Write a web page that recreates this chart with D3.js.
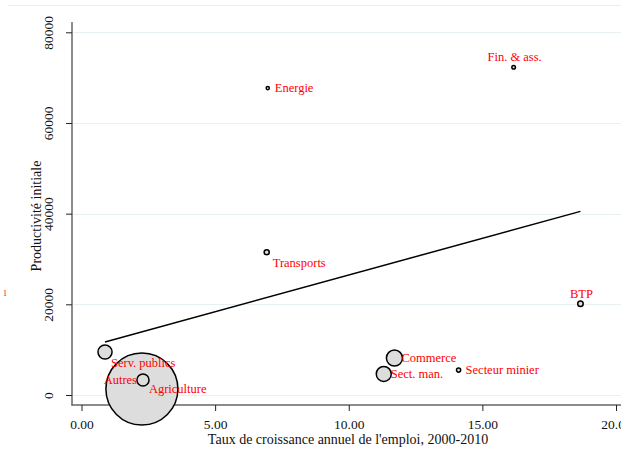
<!DOCTYPE html>
<html><head><meta charset="utf-8">
<script src="https://cdn.jsdelivr.net/npm/d3@7"></script>
<style>
html,body{margin:0;padding:0;background:#fff;}
svg{display:block;}
svg text{font-family:"Liberation Serif","DejaVu Serif",serif;}
</style></head>
<body>
<script>
// ---- data ----
const sectors = ["Fin. & ass.","Energie","Transports","BTP","Secteur minier","Commerce","Sect. man.","Serv. publics","Autres","Agriculture"];
const growth = [16.17, 6.97, 6.93, 18.67, 14.11, 11.71, 11.31, 0.88, 2.30, 2.26];
const productivity = [72300, 67700, 31500, 20100, 5500, 8150, 4650, 9500, 3300, 1300];
const weight = [0.15, 0.1, 0.3, 0.35, 0.2, 3.0, 2.6, 2.3, 1.7, 60];
const labelPos = [12, 3, 4, 12, 3, 3, 3, 4, 9, 3]; // clock positions
const fitX = [0.88, 18.67];
const fitY = [11700, 40500];
const xTicks = [0, 5, 10, 15, 20];
const yTicks = [0, 20000, 40000, 60000, 80000];
const xTitle = "Taux de croissance annuel de l'emploi, 2000-2010";
const yTitle = "Productivité initiale";

const W = 621, H = 472;
const FONT = "Liberation Serif";
const svg = d3.select("body").append("svg").attr("width", W).attr("height", H);

const x = d3.scaleLinear().domain([0, 20]).range([81.5, 616]);
const y = d3.scaleLinear().domain([0, 80000]).range([395, 32.3]);
const r = d3.scaleSqrt().domain([0, 60]).range([0, 36]);

const grid = "#e8eff2";
svg.append("line").attr("x1", 8).attr("x2", W).attr("y1", 5.5).attr("y2", 5.5)
  .attr("stroke", grid).attr("stroke-width", 1);

svg.append("g").selectAll("line").data(yTicks).join("line")
  .attr("x1", 73).attr("x2", W)
  .attr("y1", d => Math.round(y(d)) + 0.5).attr("y2", d => Math.round(y(d)) + 0.5)
  .attr("stroke", grid).attr("stroke-width", 1.2);

svg.append("line").attr("x1", 72).attr("x2", 72).attr("y1", 22).attr("y2", 405.5)
  .attr("stroke", "#666").attr("stroke-width", 1.5);
svg.append("line").attr("x1", 71.5).attr("x2", W).attr("y1", 405).attr("y2", 405)
  .attr("stroke", "#666").attr("stroke-width", 1.5);

const yAxis = svg.append("g").attr("transform", "translate(72,0)")
  .call(d3.axisLeft(y).tickValues(yTicks).tickSize(6).tickPadding(0).tickFormat(d3.format("d")));
yAxis.attr("font-family", FONT);
yAxis.select(".domain").remove();
yAxis.selectAll(".tick line").attr("stroke", "#222").attr("stroke-width", 1);
yAxis.selectAll(".tick text")
  .attr("x", 0).attr("y", 0).attr("dy", null)
  .attr("transform", "translate(-19,0) rotate(-90)")
  .attr("text-anchor", "middle")
  .attr("font-size", 13.5).attr("font-family", FONT).attr("fill", "#111");

const xAxis = svg.append("g").attr("transform", "translate(0,405)")
  .call(d3.axisBottom(x).tickValues(xTicks).tickSize(6).tickPadding(0).tickFormat(d3.format(".2f")));
xAxis.attr("font-family", FONT);
xAxis.select(".domain").remove();
xAxis.selectAll(".tick line").attr("stroke", "#222").attr("stroke-width", 1);
xAxis.selectAll(".tick text").attr("y", 24).attr("dy", null)
  .attr("font-size", 13.5).attr("font-family", FONT).attr("fill", "#111");

svg.append("text").attr("x", 348).attr("y", 444).attr("text-anchor", "middle")
  .attr("font-family", FONT).attr("font-size", 14).attr("fill", "#111").text(xTitle);
svg.append("text").attr("transform", "translate(41,216) rotate(-90)").attr("text-anchor", "middle")
  .attr("font-family", FONT).attr("font-size", 14).attr("fill", "#111").text(yTitle);

svg.append("text").attr("x", 3).attr("y", 296).attr("font-family", FONT)
  .attr("font-size", 8).attr("fill", "#f00").text("1");

const data = sectors.map((s, i) => ({s, gx: growth[i], p: productivity[i], w: weight[i], pos: labelPos[i]}));
const sorted = data.slice().sort((a, b) => b.w - a.w);
svg.append("g").selectAll("circle").data(sorted).join("circle")
  .attr("cx", d => x(d.gx)).attr("cy", d => y(d.p))
  .attr("r", d => Math.max(r(d.w), 1.6))
  .attr("fill", "#dddddd").attr("stroke", "#000").attr("stroke-width", 1.5);

svg.append("path").datum(fitX.map((v, i) => [v, fitY[i]]))
  .attr("d", d3.line().x(d => x(d[0])).y(d => y(d[1])))
  .attr("stroke", "#000").attr("stroke-width", 1.5).attr("fill", "none");

const off = {
  12: {dx: 1, dy: -6, a: "middle"},
  3: {dx: 7, dy: 4, a: "start"},
  4: {dx: 6, dy: 15, a: "start"},
  9: {dx: -6, dy: 4, a: "end"}
};
svg.append("g").selectAll("text").data(data).join("text")
  .attr("x", d => x(d.gx) + off[d.pos].dx)
  .attr("y", d => y(d.p) + off[d.pos].dy)
  .attr("text-anchor", d => off[d.pos].a)
  .attr("font-family", FONT).attr("font-size", 12.5).attr("fill", "#f00")
  .text(d => d.s);
</script>
</body></html>
